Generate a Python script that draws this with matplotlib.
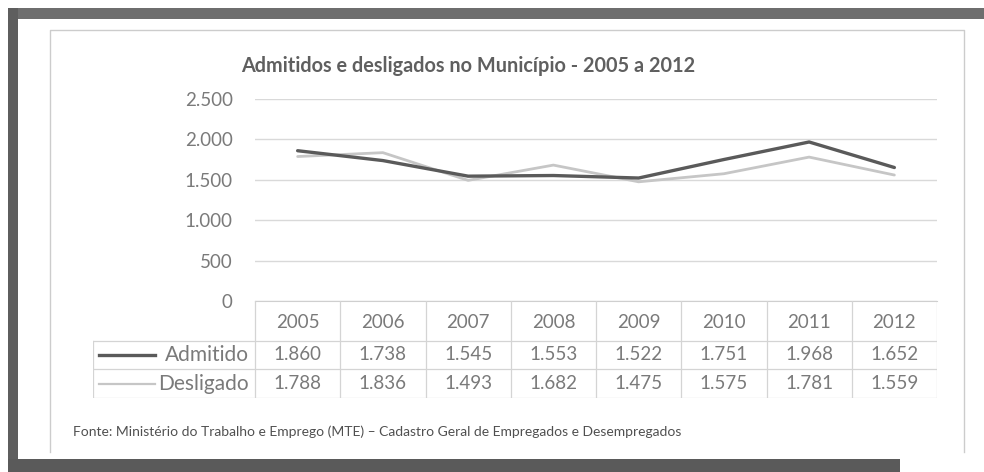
import numpy as np
import matplotlib.pyplot as plt
from matplotlib.lines import Line2D
from matplotlib.patches import Rectangle

anos = ['2005', '2006', '2007', '2008', '2009', '2010', '2011', '2012']
admitido = [1860, 1738, 1545, 1553, 1522, 1751, 1968, 1652]
desligado = [1788, 1836, 1493, 1682, 1475, 1575, 1781, 1559]
series_nomes = ['Admitido', 'Desligado']
y_ticks = [0, 500, 1000, 1500, 2000, 2500]

titulo = 'Admitidos e desligados no Município - 2005 a 2012'
fonte = ('Fonte: Ministério do Trabalho e Emprego (MTE) – Cadastro Geral de '
         'Empregados e Desempregados')

plt.rcParams['font.family'] = ['Lato', 'DejaVu Sans']

W, H = 984, 472
fig = plt.figure(figsize=(W / 100, H / 100), dpi=100)


def box(x0, y0, x1, y1):
    """caixa em pixels (origem no topo) -> [l, b, w, h] em fração da figura"""
    return [x0 / W, 1 - y1 / H, (x1 - x0) / W, (y1 - y0) / H]


def fig_rect(x0, y0, x1, y1, color):
    l, b, w, h = box(x0, y0, x1, y1)
    fig.add_artist(Rectangle((l, b), w, h, transform=fig.transFigure,
                             facecolor=color, edgecolor='none', zorder=0))


def fig_line(xs, ys, color, lw):
    fig.add_artist(Line2D([x / W for x in xs], [1 - y / H for y in ys],
                          transform=fig.transFigure, color=color, lw=lw))


# moldura escura da digitalização
fig_rect(8, 8, W, 19, '#6e6e6e')
fig_rect(8, 8, 18, H, '#5e5e5e')
fig_rect(8, 459, 900, H, '#5a5a5a')

# caixa clara do gráfico
fig_line([50, 50, 964, 964], [452, 30, 30, 452], '#cccccc', 1.0)

# cores
cor_adm = '#5a5a5a'
cor_des = '#c6c6c6'
cor_grade = '#d9d9d9'
cor_texto = '#7a7a7a'

# área do gráfico
ax = fig.add_axes(box(255, 99, 937, 301))
x = np.arange(len(anos))
ax.plot(x, desligado, color=cor_des, lw=2.0, solid_capstyle='round', zorder=3)
ax.plot(x, admitido, color=cor_adm, lw=2.4, solid_capstyle='round', zorder=4)
ax.set_xlim(-0.5, len(anos) - 0.5)
ax.set_ylim(0, 2500)
ax.set_yticks(y_ticks)
ax.set_yticklabels([f'{v:,}'.replace(',', '.') for v in y_ticks],
                   fontsize=13.5, color=cor_texto)
ax.tick_params(axis='y', length=0, pad=16)
ax.set_xticks([])
ax.grid(axis='y', color=cor_grade, lw=1.0)
ax.set_axisbelow(True)
for s in ['top', 'right', 'left']:
    ax.spines[s].set_visible(False)
ax.spines['bottom'].set_color('#cfcfcf')

# tabela de dados
col_px = 682 / len(anos)
xl = -0.5 - 162 / col_px
tab = fig.add_axes(box(93, 301, 937, 398))
tab.set_xlim(xl, len(anos) - 0.5)
tab.set_ylim(97, 0)
tab.axis('off')
cor_tab = '#d4d4d4'
linhas_y = [0, 40, 68, 97]
for i in range(len(anos) + 1):
    tab.plot([i - 0.5, i - 0.5], [0, 97], color=cor_tab, lw=0.9)
tab.plot([xl, xl], [40, 97], color=cor_tab, lw=0.9)
for yy in linhas_y[1:]:
    tab.plot([xl, len(anos) - 0.5], [yy, yy], color=cor_tab, lw=0.9)

for i, ano in enumerate(anos):
    tab.text(i, 21, ano, ha='center', va='center', fontsize=13.5, color=cor_texto)

valores = [admitido, desligado]
cores = [cor_adm, cor_des]
larg = [2.4, 1.6]
for r, (nome, vals) in enumerate(zip(series_nomes, valores)):
    yc = (linhas_y[r + 1] + linhas_y[r + 2]) / 2
    for i, v in enumerate(vals):
        tab.text(i, yc, f'{v:,}'.replace(',', '.'), ha='center', va='center',
                 fontsize=13.5, color=cor_texto)
    tab.text(-0.5 - 6 / col_px, yc, nome, ha='right', va='center',
             fontsize=15, color=cor_texto)
    tab.plot([xl + 6 / col_px, xl + 62 / col_px], [yc, yc],
             color=cores[r], lw=larg[r])

# título e fonte
fig.text(468 / W, 1 - 66 / H, titulo, ha='center', va='center',
         fontsize=14.3, fontweight='bold', color='#5f5f5f')
fig.text(73 / W, 1 - 432 / H, fonte, ha='left', va='center',
         fontsize=10, color='#505050')

fig.savefig('out.png', dpi=100, facecolor='white')
